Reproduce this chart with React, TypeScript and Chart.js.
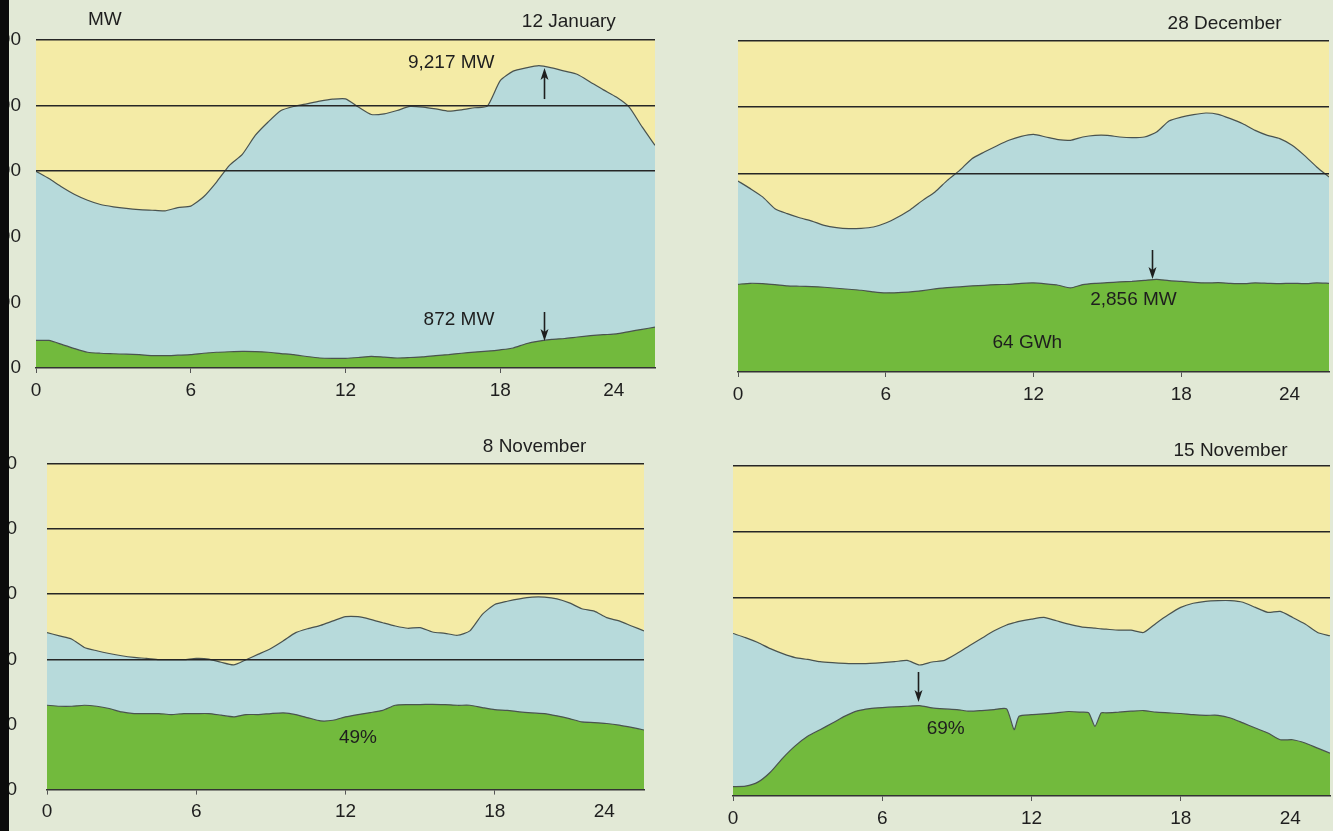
import React, { useEffect, useRef } from 'react';
import { Chart, registerables } from 'chart.js';

Chart.register(...registerables);

// ---------- data ----------
const hours = [
  0, 0.5, 1, 1.5, 2, 2.5, 3, 3.5, 4, 4.5, 5, 5.5, 6, 6.5, 7, 7.5, 8, 8.5, 9, 9.5, 10, 10.5, 11, 11.5,
  12, 12.5, 13, 13.5, 14, 14.5, 15, 15.5, 16, 16.5, 17, 17.5, 18, 18.5, 19, 19.5, 20, 20.5, 21, 21.5,
  22, 22.5, 23, 23.5, 24,
];

const hoursNov15 = [
  0, 0.5, 1, 1.5, 2, 2.5, 3, 3.5, 4, 4.5, 5, 5.5, 6, 6.5, 7, 7.5, 8, 8.5, 9, 9.5, 10, 10.5, 11, 11.3,
  11.5, 12, 12.5, 13, 13.5, 14, 14.3, 14.55, 14.8, 15, 15.5, 16, 16.5, 17, 17.5, 18, 18.5, 19, 19.5,
  20, 20.5, 21, 21.5, 22, 22.5, 23, 23.5, 24,
];

const demandJan12 = [
  6000, 5775, 5520, 5290, 5115, 4985, 4915, 4865, 4830, 4810, 4790, 4890, 4935, 5220, 5670, 6180, 6515,
  7090, 7500, 7850, 7975, 8055, 8135, 8195, 8205, 7955, 7730, 7750, 7850, 7975, 7955, 7900, 7830, 7870,
  7935, 7985, 8760, 9050, 9150, 9217, 9150, 9050, 8950, 8715, 8480, 8260, 7955, 7350, 6790,
];
const windJan12 = [
  840, 840, 720, 590, 480, 450, 435, 420, 405, 380, 375, 390, 405, 450, 480, 495, 505, 500, 480, 440,
  405, 350, 305, 295, 295, 320, 355, 330, 305, 320, 340, 380, 410, 450, 485, 515, 555, 610, 740, 820,
  872, 900, 945, 985, 1015, 1040, 1110, 1180, 1245,
];

const demandDec28 = [
  5770, 5540, 5290, 4935, 4785, 4660, 4560, 4430, 4360, 4330, 4340, 4380, 4500, 4685, 4905, 5185, 5440,
  5790, 6090, 6445, 6645, 6830, 7000, 7120, 7180, 7100, 7020, 7000, 7100, 7150, 7150, 7100, 7080, 7100,
  7250, 7585, 7700, 7775, 7825, 7785, 7655, 7500, 7300, 7150, 7050, 6850, 6545, 6195, 5890,
];
const windDec28 = [
  2650, 2680, 2670, 2640, 2600, 2590, 2580, 2560, 2530, 2500, 2470, 2420, 2390, 2400, 2420, 2460, 2510,
  2550, 2570, 2600, 2620, 2640, 2650, 2680, 2690, 2660, 2620, 2540, 2640, 2680, 2700, 2720, 2740, 2770,
  2800, 2760, 2740, 2710, 2690, 2700, 2680, 2670, 2690, 2680, 2670, 2680, 2670, 2690, 2680,
];

const demandNov8 = [
  4820, 4720, 4620, 4365, 4265, 4180, 4110, 4060, 4030, 3990, 3990, 3990, 4030, 4010, 3910, 3830, 3990,
  4160, 4335, 4570, 4820, 4945, 5045, 5180, 5310, 5310, 5230, 5125, 5025, 4955, 4975, 4840, 4800, 4740,
  4875, 5380, 5685, 5785, 5860, 5910, 5910, 5860, 5735, 5555, 5480, 5280, 5180, 5025, 4875,
];
const windNov8 = [
  2590, 2560, 2560, 2590, 2560, 2490, 2385, 2335, 2335, 2335, 2305, 2335, 2335, 2335, 2285, 2235, 2305,
  2305, 2335, 2355, 2305, 2205, 2110, 2130, 2235, 2305, 2365, 2435, 2590, 2610, 2610, 2620, 2610, 2590,
  2590, 2520, 2455, 2435, 2385, 2355, 2335, 2265, 2180, 2080, 2060, 2030, 1980, 1910, 1830,
];

const demandNov15 = [
  4925, 4800, 4650, 4465, 4315, 4195, 4140, 4070, 4040, 4020, 4010, 4020, 4040, 4070, 4110, 3970, 4060,
  4110, 4315, 4550, 4780, 5005, 5180, 5250, 5290, 5360, 5410, 5310, 5210, 5125, 5100, 5085, 5065, 5055,
  5025, 5025, 4955, 5230, 5490, 5715, 5840, 5900, 5920, 5920, 5870, 5715, 5565, 5595, 5410, 5210, 4955,
  4855,
];
const windNov15 = [
  285, 300, 420, 720, 1150, 1520, 1810, 2010, 2210, 2420, 2580, 2650, 2680, 2700, 2720, 2740, 2670,
  2640, 2620, 2570, 2590, 2620, 2640, 2010, 2415, 2465, 2490, 2520, 2560, 2540, 2520, 2110, 2520, 2520,
  2540, 2570, 2590, 2540, 2520, 2500, 2465, 2445, 2445, 2365, 2215, 2060, 1910, 1705, 1705, 1605, 1450,
  1300,
];

const xTickValues = [0, 6, 12, 18, 22.4];
const xTickLabels = ['0', '6', '12', '18', '24'];
const yTickValues = [0, 2000, 4000, 6000, 8000, 10000];

// ---------- styles ----------
const PAGE_BG = '#e2e9d6';
const BAND = '#f4eba6';
const DEMAND_FILL = '#b7dadb';
const WIND_FILL = '#72ba3d';
const OUTLINE = '#4a534f';
const INK = '#1e1e1e';
const FONT = "'Liberation Sans', Arial, Helvetica, sans-serif";

type Note =
  | { kind: 'text'; x: number; y: number; text: string }
  | { kind: 'arrow'; x: number; from: number; to: number };

interface PanelDef {
  key: string;
  left: number;
  top: number;
  width: number;
  height: number;
  yAxisWidth: number;
  padTop: number;
  padRight: number;
  xAxisHeight: number;
  showY: boolean;
  yPad: number;
  gridFrom: number;
  hours: number[];
  demand: number[];
  wind: number[];
  notes: Note[];
}

const panels: PanelDef[] = [
  {
    key: 'jan12', left: -60, top: 0, width: 730, height: 410,
    yAxisWidth: 96, padTop: 40, padRight: 15, xAxisHeight: 42, showY: true, yPad: 15, gridFrom: 6000,
    hours, demand: demandJan12, wind: windJan12,
    notes: [
      { kind: 'text', x: 2.67, y: 10610, text: 'MW' },
      { kind: 'text', x: 20.66, y: 10549, text: '12 January' },
      { kind: 'text', x: 16.1, y: 9300, text: '9,217 MW' },
      { kind: 'arrow', x: 19.7, from: 8200, to: 9146 },
      { kind: 'text', x: 16.4, y: 1463, text: '872 MW' },
      { kind: 'arrow', x: 19.7, from: 1707, to: 820 },
    ],
  },
  {
    key: 'dec28', left: 670, top: 0, width: 663, height: 410,
    yAxisWidth: 68, padTop: 41, padRight: 4, xAxisHeight: 38, showY: false, yPad: 0, gridFrom: 6000,
    hours, demand: demandDec28, wind: windDec28,
    notes: [
      { kind: 'text', x: 19.76, y: 10514, text: '28 December' },
      { kind: 'arrow', x: 16.83, from: 3686, to: 2810 },
      { kind: 'text', x: 16.06, y: 2175, text: '2,856 MW' },
      { kind: 'text', x: 11.75, y: 876, text: '64 GWh' },
    ],
  },
  {
    key: 'nov8', left: -60, top: 420, width: 730, height: 411,
    yAxisWidth: 107, padTop: 44, padRight: 26, xAxisHeight: 39, showY: true, yPad: 30, gridFrom: 4000,
    hours, demand: demandNov8, wind: windNov8,
    notes: [
      { kind: 'text', x: 19.6, y: 10518, text: '8 November' },
      { kind: 'text', x: 12.5, y: 1585, text: '49%' },
    ],
  },
  {
    key: 'nov15', left: 670, top: 420, width: 663, height: 411,
    yAxisWidth: 63, padTop: 46, padRight: 3, xAxisHeight: 35, showY: false, yPad: 0, gridFrom: 6000,
    hours: hoursNov15, demand: demandNov15, wind: windNov15,
    notes: [
      { kind: 'text', x: 20.0, y: 10454, text: '15 November' },
      { kind: 'arrow', x: 7.43, from: 3758, to: 2848 },
      { kind: 'text', x: 8.55, y: 2030, text: '69%' },
    ],
  },
];

const notesPlugin = {
  id: 'panelNotes',
  beforeDraw(chart: any) {
    const { ctx, chartArea } = chart;
    ctx.save();
    ctx.fillStyle = BAND;
    ctx.fillRect(chartArea.left, chartArea.top, chartArea.right - chartArea.left, chartArea.bottom - chartArea.top);
    ctx.restore();
  },
  afterDraw(chart: any, _args: any, opts: any) {
    const { ctx } = chart;
    const xs = chart.scales.x;
    const ys = chart.scales.y;
    const notes: Note[] = opts.notes || [];
    ctx.save();
    for (const n of notes) {
      if (n.kind === 'text') {
        ctx.fillStyle = INK;
        ctx.font = `19px ${FONT}`;
        ctx.textAlign = 'center';
        ctx.textBaseline = 'middle';
        ctx.fillText(n.text, xs.getPixelForValue(n.x), ys.getPixelForValue(n.y));
      } else {
        const px = Math.round(xs.getPixelForValue(n.x)) + 0.5;
        const y1 = ys.getPixelForValue(n.from);
        const y2 = ys.getPixelForValue(n.to);
        const dir = y2 > y1 ? 1 : -1;
        ctx.strokeStyle = INK;
        ctx.fillStyle = INK;
        ctx.lineWidth = 1.6;
        ctx.beginPath();
        ctx.moveTo(px, y1);
        ctx.lineTo(px, y2 - dir * 9);
        ctx.stroke();
        ctx.beginPath();
        ctx.moveTo(px, y2);
        ctx.lineTo(px - 4, y2 - dir * 12);
        ctx.lineTo(px, y2 - dir * 9);
        ctx.lineTo(px + 4, y2 - dir * 12);
        ctx.closePath();
        ctx.fill();
      }
    }
    ctx.restore();
  },
};

function Panel({ def }: { def: PanelDef }) {
  const ref = useRef<HTMLCanvasElement | null>(null);
  useEffect(() => {
    if (!ref.current) return;
    const toPts = (vals: number[]) => def.hours.map((h, i) => ({ x: h, y: vals[i] }));
    const chart = new Chart(ref.current, {
      type: 'line',
      data: {
        datasets: [
          {
            label: 'Wind',
            data: toPts(def.wind),
            borderColor: OUTLINE,
            borderWidth: 1.2,
            backgroundColor: WIND_FILL,
            fill: 'origin',
            pointRadius: 0,
            tension: 0.2,
          },
          {
            label: 'Demand',
            data: toPts(def.demand),
            borderColor: OUTLINE,
            borderWidth: 1.2,
            backgroundColor: DEMAND_FILL,
            fill: 'origin',
            pointRadius: 0,
            tension: 0.2,
          },
        ],
      },
      options: {
        animation: false,
        responsive: false,
        maintainAspectRatio: false,
        layout: { padding: { left: 0, top: def.padTop, right: def.padRight, bottom: 0 } },
        plugins: {
          legend: { display: false },
          tooltip: { enabled: false },
          title: { display: false },
          panelNotes: { notes: def.notes },
        } as any,
        scales: {
          x: {
            type: 'linear',
            min: 0,
            max: 24,
            afterBuildTicks: (scale: any) => {
              scale.ticks = xTickValues.map((v) => ({ value: v }));
            },
            afterFit: (scale: any) => {
              scale.height = def.xAxisHeight;
            },
            ticks: {
              autoSkip: false,
              maxRotation: 0,
              padding: 6,
              color: INK,
              font: { family: FONT, size: 19 },
              callback: (v: any) => {
                const i = xTickValues.indexOf(Number(v));
                return i >= 0 ? xTickLabels[i] : '';
              },
            },
            grid: {
              drawOnChartArea: false,
              drawTicks: true,
              tickLength: 5,
              tickColor: (ctx: any) => (ctx.tick && ctx.tick.value === 22.4 ? 'rgba(0,0,0,0)' : '#555'),
              color: 'rgba(0,0,0,0)',
            },
            border: { display: true, color: '#333', width: 1.5, z: 2 },
          },
          y: {
            type: 'linear',
            min: 0,
            max: 10000,
            afterBuildTicks: (scale: any) => {
              scale.ticks = yTickValues.map((v) => ({ value: v }));
            },
            afterFit: (scale: any) => {
              scale.width = def.yAxisWidth;
            },
            ticks: {
              display: def.showY,
              padding: def.yPad,
              color: INK,
              font: { family: FONT, size: 19 },
              callback: (v: any) => Number(v).toLocaleString('en-US'),
            },
            grid: {
              z: 1,
              drawTicks: false,
              lineWidth: 1.6,
              color: (ctx: any) =>
                ctx.tick && ctx.tick.value >= def.gridFrom ? '#262626' : 'rgba(0,0,0,0)',
            },
            border: { display: false },
          },
        },
      },
      plugins: [notesPlugin as any],
    });
    return () => chart.destroy();
  }, [def]);

  return (
    <canvas
      ref={ref}
      width={def.width}
      height={def.height}
      style={{ position: 'absolute', left: def.left, top: def.top, width: def.width, height: def.height }}
    />
  );
}

export default function App() {
  return (
    <div
      style={{
        position: 'fixed',
        left: 0,
        top: 0,
        width: 1333,
        height: 831,
        overflow: 'hidden',
        background: PAGE_BG,
        fontFamily: FONT,
      }}
    >
      {panels.map((p) => (
        <Panel key={p.key} def={p} />
      ))}
      <div style={{ position: 'absolute', left: 0, top: 0, width: 9, height: 831, background: '#0b0b0b' }} />
    </div>
  );
}
